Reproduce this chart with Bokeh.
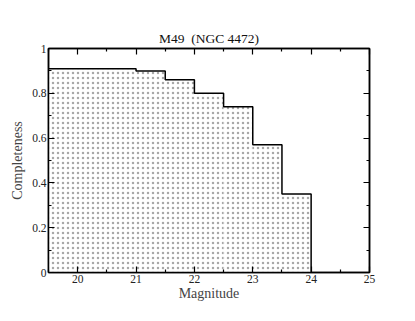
from bokeh.plotting import figure
from bokeh.models import LinearAxis, FixedTicker, Range1d, Title
from bokeh.embed import file_html
from bokeh.resources import INLINE
import numpy as np

# data
bin_left = [19.5, 21.0, 21.5, 22.0, 22.5, 23.0, 23.5]
bin_right = [21.0, 21.5, 22.0, 22.5, 23.0, 23.5, 24.0]
completeness = [0.91, 0.90, 0.86, 0.80, 0.74, 0.57, 0.35]
x_ticks = [20, 21, 22, 23, 24, 25]
x_minor = [19.5, 20.5, 21.5, 22.5, 23.5, 24.5]
y_ticks = [0, 0.2, 0.4, 0.6, 0.8, 1.0]
y_tick_labels = ["0", "0.2", "0.4", "0.6", "0.8", "1"]
y_minor = [0.1, 0.3, 0.5, 0.7, 0.9]
title_text = "M49\u00a0\u00a0(NGC 4472)"

FONT = "Liberation Serif"

p = figure(width=399, height=305, output_backend="svg", toolbar_location=None,
           x_range=Range1d(19.5, 25), y_range=Range1d(0, 1),
           x_axis_location=None, y_axis_location=None,
           min_border_left=48, min_border_right=30, min_border_top=48, min_border_bottom=33)
p.grid.visible = False
p.outline_line_color = "black"
p.outline_line_width = 1.5

p.quad(left=bin_left, right=bin_right, top=completeness, bottom=0,
       fill_color="white", line_color=None,
       hatch_pattern=".", hatch_scale=5, hatch_color="#a8a8a8", hatch_weight=1)

xs = np.repeat(np.array(bin_left + [bin_right[-1]]), 2)[1:]
ys = np.repeat(np.array(completeness + [0.0]), 2)[:-1]
p.line(xs, ys, line_color="black", line_width=1.5)

def style(ax, labels=True):
    ax.major_tick_in = 6
    ax.major_tick_out = 0
    ax.minor_tick_in = 3
    ax.minor_tick_out = 0
    ax.axis_line_color = "black"
    ax.axis_line_width = 1.5
    ax.major_tick_line_width = 1.2
    ax.minor_tick_line_width = 1.2
    ax.major_label_text_font = FONT
    ax.major_label_text_font_size = "11.5px"
    ax.major_label_text_color = "#222222" if labels else None
    ax.axis_label_text_font = FONT
    ax.axis_label_text_font_size = "14px"
    ax.axis_label_text_font_style = "normal"
    ax.major_label_standoff = 2
    ax.axis_label_standoff = 0

xb = LinearAxis(ticker=FixedTicker(ticks=x_ticks, minor_ticks=x_minor), axis_label="Magnitude")
style(xb)
p.add_layout(xb, "below")
xt = LinearAxis(ticker=FixedTicker(ticks=x_ticks, minor_ticks=x_minor))
style(xt, labels=False)
xt.major_label_text_font_size = "14px"
xt.major_label_standoff = 2
p.add_layout(xt, "above")

yl = LinearAxis(ticker=FixedTicker(ticks=y_ticks, minor_ticks=y_minor), axis_label="Completeness")
yl.major_label_overrides = {t: l for t, l in zip(y_ticks, y_tick_labels)}
style(yl)
yl.axis_label_standoff = 4
p.add_layout(yl, "left")
yr = LinearAxis(ticker=FixedTicker(ticks=y_ticks, minor_ticks=y_minor))
style(yr, labels=False)
p.add_layout(yr, "right")

t = Title(text=title_text, align="center", text_font=FONT, text_font_size="13.5px",
          text_font_style="normal", text_color="#111111", standoff=6)
p.add_layout(t, "above")

open("out.html", "w").write(file_html(p, INLINE))
